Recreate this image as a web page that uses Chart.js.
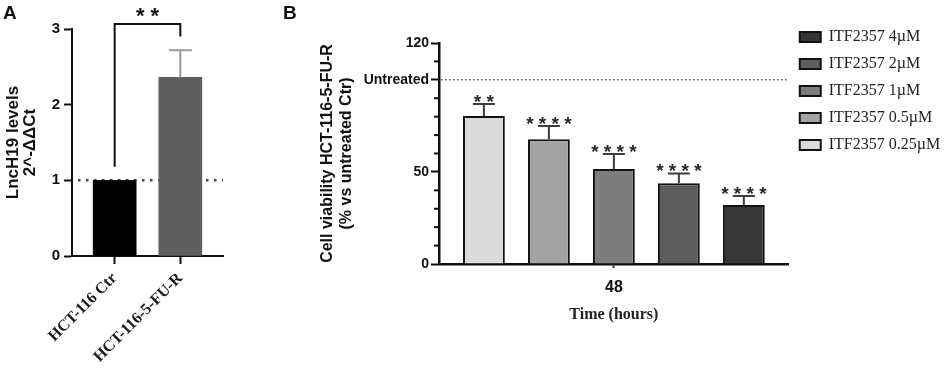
<!DOCTYPE html>
<html>
<head>
<meta charset="utf-8">
<script src="https://cdn.jsdelivr.net/npm/chart.js@4.4.0/dist/chart.umd.min.js"></script>
<style>
  html, body { margin: 0; padding: 0; background: #fff; }
  #wrap { position: relative; width: 948px; height: 373px; overflow: hidden; }
  .panel { position: absolute; top: 0; height: 373px; }
  #pa { left: 0; width: 240px; }
  #pb { left: 240px; width: 708px; }
  .tag { position: absolute; font: bold 19px "Liberation Sans", Arial, sans-serif; line-height: 19px; color: #111; }
</style>
</head>
<body>
<div id="wrap">
  <div class="panel" id="pa"><canvas id="chartA"></canvas></div>
  <div class="panel" id="pb"><canvas id="chartB"></canvas></div>
  <div class="tag" style="left:3px;top:3px">A</div>
  <div class="tag" style="left:283px;top:3px">B</div>
</div>
<script>
// panel A
const groupsA = ['HCT-116 Ctr', 'HCT-116-5-FU-R'];
const levelsA = [1, 2.36];
const errA = [0, 0.36];
const colorsA = ['#000000', '#5f5f5f'];
const bracketA = [1.18, 3.065, 2.9]; // left end, top, right end
const sigA = '**';

// panel B
const timeB = ['48'];
const dosesB = ['ITF2357 0.25µM', 'ITF2357 0.5µM', 'ITF2357 1µM', 'ITF2357 2µM', 'ITF2357 4µM'];
const viabilityB = [80.3, 67.8, 51.6, 43.8, 32.0];
const errB = [6.6, 7.1, 8.1, 5.4, 4.9];
const starsB = ['**', '****', '****', '****', '****'];
const colorsB = ['#dadada', '#a3a3a3', '#7d7d7d', '#5c5c5c', '#363636'];
const yTickValuesB = [0, 50, 100, 120];
const yTickTextB = ['0', '50', 'Untreated', '120'];
const untreatedB = 100;

const sans = '"Liberation Sans", Arial, sans-serif';
const serif = '"Liberation Serif", "Times New Roman", serif';
const spaced = s => s.split('').join(' ');

const decorA = {
  id: 'decorA',
  beforeDatasetsDraw(chart) {
    const { ctx, chartArea, scales: { y } } = chart;
    const py = y.getPixelForValue(1);
    ctx.save();
    ctx.setLineDash([2.5, 5.5]);
    ctx.strokeStyle = '#444';
    ctx.lineWidth = 2.5;
    ctx.beginPath();
    ctx.moveTo(chartArea.left + 6, py);
    ctx.lineTo(chartArea.right, py);
    ctx.stroke();
    ctx.restore();
  },
  afterDatasetsDraw(chart) {
    const { ctx, scales: { x, y } } = chart;
    ctx.save();
    ctx.strokeStyle = '#9a9a9a';
    ctx.lineWidth = 2;
    levelsA.forEach((v, i) => {
      if (!errA[i]) return;
      const px = x.getPixelForValue(i);
      const p0 = y.getPixelForValue(v), p1 = y.getPixelForValue(v + errA[i]);
      ctx.beginPath();
      ctx.moveTo(px, p0); ctx.lineTo(px, p1);
      ctx.moveTo(px - 11.5, p1); ctx.lineTo(px + 11.5, p1);
      ctx.stroke();
    });
    const xl = x.getPixelForValue(0), xr = x.getPixelForValue(1);
    const top = y.getPixelForValue(bracketA[1]);
    ctx.strokeStyle = '#111';
    ctx.beginPath();
    ctx.moveTo(xl, y.getPixelForValue(bracketA[0]));
    ctx.lineTo(xl, top);
    ctx.lineTo(xr, top);
    ctx.lineTo(xr, y.getPixelForValue(bracketA[2]));
    ctx.stroke();
    ctx.fillStyle = '#111';
    ctx.font = 'bold 22px ' + sans;
    ctx.textAlign = 'center';
    ctx.textBaseline = 'alphabetic';
    ctx.fillText(spaced(sigA), (xl + xr) / 2, top - 1);
    ctx.restore();
  }
};

const decorB = {
  id: 'decorB',
  beforeDatasetsDraw(chart) {
    const { ctx, chartArea, scales: { y } } = chart;
    const py = y.getPixelForValue(untreatedB);
    ctx.save();
    ctx.setLineDash([1.5, 2.5]);
    ctx.strokeStyle = '#555';
    ctx.lineWidth = 1.5;
    ctx.beginPath();
    ctx.moveTo(chartArea.left + 2, py);
    ctx.lineTo(chartArea.right, py);
    ctx.stroke();
    ctx.restore();
  },
  afterDatasetsDraw(chart) {
    const { ctx, scales: { y } } = chart;
    ctx.save();
    ctx.strokeStyle = '#3c3c3c';
    ctx.lineWidth = 2;
    ctx.fillStyle = '#2a2a2a';
    ctx.font = 'bold 19px ' + sans;
    ctx.textAlign = 'center';
    ctx.textBaseline = 'alphabetic';
    chart.data.datasets.forEach((ds, i) => {
      const bar = chart.getDatasetMeta(i).data[0];
      const p0 = y.getPixelForValue(viabilityB[i]);
      const p1 = y.getPixelForValue(viabilityB[i] + errB[i]);
      ctx.beginPath();
      ctx.moveTo(bar.x, p0); ctx.lineTo(bar.x, p1);
      ctx.moveTo(bar.x - 11, p1); ctx.lineTo(bar.x + 11, p1);
      ctx.stroke();
      ctx.fillText(spaced(starsB[i]), bar.x, p1 + 4);
    });
    ctx.restore();
  },
  afterDraw(chart) {
    const { ctx, chartArea, scales: { y } } = chart;
    ctx.save();
    ctx.strokeStyle = '#111';
    ctx.lineWidth = 2;
    y.ticks.forEach(t => {
      if (yTickValuesB.includes(t.value)) return;
      const py = y.getPixelForValue(t.value);
      ctx.beginPath();
      ctx.moveTo(chartArea.left - 5, py);
      ctx.lineTo(chartArea.left, py);
      ctx.stroke();
    });
    ctx.restore();
  }
};

new Chart(document.getElementById('chartA'), {
  type: 'bar',
  data: {
    datasets: [{
      data: levelsA.map((v, i) => ({ x: i, y: v })),
      backgroundColor: colorsA,
      borderWidth: 0,
      barThickness: 43
    }]
  },
  options: {
    responsive: true,
    maintainAspectRatio: false,
    animation: false,
    layout: { padding: { top: 29, right: 17, left: 0, bottom: 0 } },
    plugins: { legend: { display: false }, tooltip: { enabled: false } },
    scales: {
      x: {
        type: 'linear', min: -0.65, max: 1.65, offset: false,
        afterBuildTicks: s => { s.ticks = groupsA.map((_, i) => ({ value: i })); },
        afterFit: s => { s.height = 117; },
        ticks: {
          callback: v => groupsA[v], minRotation: 45, maxRotation: 45, padding: 5,
          color: '#1a1a1a', font: { family: serif, size: 16, weight: 'bold' }
        },
        grid: { offset: false, drawOnChartArea: false, tickLength: 8, tickWidth: 2, tickColor: '#111' },
        border: { color: '#111', width: 2 }
      },
      y: {
        min: 0, max: 3,
        afterFit: s => { s.width = 72; },
        ticks: { stepSize: 1, padding: 4, color: '#111', font: { family: sans, size: 15, weight: 'bold' } },
        grid: { drawOnChartArea: false, tickLength: 8, tickWidth: 2, tickColor: '#111' },
        border: { color: '#111', width: 2 },
        title: {
          display: true, text: ['LncH19 levels', '2^-ΔΔCt'], color: '#111',
          font: { family: sans, size: 17, weight: 'bold', lineHeight: 1.05 }, padding: { top: 4, bottom: 0 }
        }
      }
    }
  },
  plugins: [decorA]
});

new Chart(document.getElementById('chartB'), {
  type: 'bar',
  data: {
    labels: timeB,
    datasets: dosesB.map((d, i) => ({
      label: d,
      data: [viabilityB[i]],
      backgroundColor: colorsB[i],
      borderColor: '#111',
      borderWidth: 2,
      categoryPercentage: 0.929,
      barPercentage: 0.644
    }))
  },
  options: {
    responsive: true,
    maintainAspectRatio: false,
    animation: false,
    layout: { padding: { top: 18, right: 1, left: 74, bottom: 46 } },
    plugins: {
      title: { display: true, text: '', fullSize: false, padding: { top: 13, bottom: 0 }, font: { size: 10 } },
      legend: {
        position: 'right', align: 'start', reverse: true,
        labels: { boxWidth: 21, boxHeight: 10, padding: 11, color: '#222', font: { family: serif, size: 16 } }
      },
      tooltip: { enabled: false }
    },
    scales: {
      x: {
        afterFit: s => { s.height = 63; },
        ticks: { padding: 10, color: '#111', font: { family: sans, size: 16, weight: 'bold' } },
        grid: { offset: false, drawOnChartArea: false, tickLength: 4, tickWidth: 2, tickColor: '#333' },
        border: { color: '#111', width: 2.5 },
        title: {
          display: true, text: 'Time (hours)', color: '#222',
          font: { family: serif, size: 16, weight: 'bold' }, padding: { top: 0, bottom: 3 }
        }
      },
      y: {
        min: 0, max: 120,
        afterFit: s => { s.width = 125; },
        ticks: {
          stepSize: 10, padding: 2, autoSkip: false, color: '#111',
          font: { family: sans, size: 14, weight: 'bold' },
          callback: v => { const k = yTickValuesB.indexOf(v); return k >= 0 ? yTickTextB[k] : ''; }
        },
        grid: {
          drawOnChartArea: false, tickLength: 8, tickWidth: 2,
          tickColor: c => (c.tick && yTickValuesB.includes(c.tick.value)) ? '#111' : 'rgba(0,0,0,0)'
        },
        border: { color: '#111', width: 2.5 },
        title: {
          display: true, text: ['Cell viability HCT-116-5-FU-R', '(% vs untreated Ctr)'], color: '#111',
          font: { family: sans, size: 16, weight: 'bold' }, padding: { top: 4, bottom: 0 }
        }
      }
    }
  },
  plugins: [decorB]
});
</script>
</body>
</html>
